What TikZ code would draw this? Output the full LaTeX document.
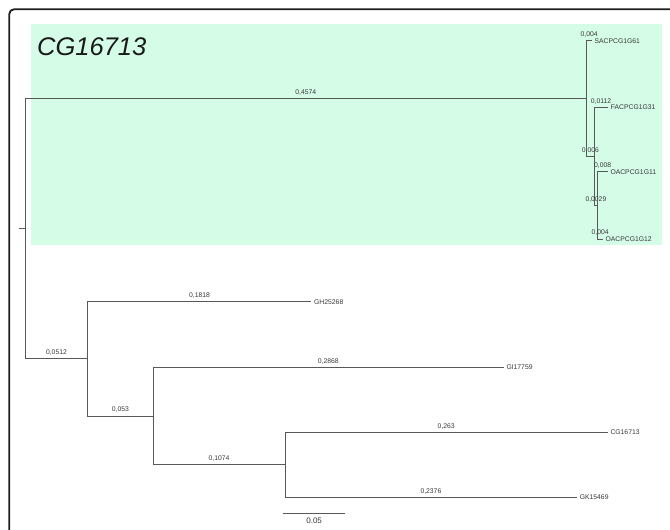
\documentclass[tikz,border=0pt]{standalone}
\usepackage{fontspec}
\setmainfont{Liberation Sans}
\definecolor{mint}{RGB}{213,252,231}
\definecolor{branchc}{RGB}{88,88,88}
\definecolor{txtc}{RGB}{55,55,55}
\definecolor{framec}{RGB}{30,30,30}
\begin{document}
\begin{tikzpicture}[x=1pt,y=-1pt,
  br/.style={draw=branchc,line width=0.9pt},
  bl/.style={font=\fontsize{6.8}{7}\selectfont, text=txtc, inner sep=1pt, above=1.8pt},
  leaf/.style={font=\fontsize{6.8}{7}\selectfont, text=txtc, inner sep=1pt, anchor=west, xshift=1.8pt}]
\useasboundingbox (0,0) rectangle (670,530);
\clip (0,0) rectangle (670,530);
% green highlight
\fill[mint] (30.7,24) rectangle (661.7,245);
% frame
\draw[framec, line width=1.8pt, rounded corners=5pt] (9.2,700) -- (9.2,9.2) -- (700,9.2);
% title
\node[anchor=base west, inner sep=0, font=\fontsize{25.5}{28}\selectfont\itshape, text=black!90] (title) at (37,55) {CG16713};
% tree coordinates
\coordinate (Rt) at (19,228.5);
\coordinate (R) at (25,228.5);
\coordinate (A) at (586.7,98.5);
\coordinate (SAC) at (591.6,40.7);
\coordinate (B) at (594.1,156.3);
\coordinate (FAC) at (607.9,107.3);
\coordinate (C) at (597.7,205.3);
\coordinate (O11) at (607.5,171.7);
\coordinate (O12) at (602.6,239);
\coordinate (D) at (87.9,358.7);
\coordinate (GH) at (311.2,301.7);
\coordinate (E) at (153,416);
\coordinate (GI) at (503.5,367.3);
\coordinate (F) at (285,464.8);
\coordinate (CG) at (607.5,432.3);
\coordinate (GK) at (576.8,497.3);
% branches
\draw[br] (Rt) -- (R);
\draw[br] (R) |- node[bl,pos=0.75] {0,4574} (A);
\draw[br] (R) |- node[bl,pos=0.75] {0,0512} (D);
\draw[br] (A) |- node[bl,pos=0.75] {0,004} (SAC);
\draw[br] (A) |- node[bl,pos=0.75] {0,006} (B);
\draw[br] (B) |- node[bl,pos=0.75] {0,0112} (FAC);
\draw[br] (B) |- node[bl,pos=0.75] {0,0029} (C);
\draw[br] (C) |- node[bl,pos=0.75] {0,008} (O11);
\draw[br] (C) |- node[bl,pos=0.75] {0,004} (O12);
\draw[br] (D) |- node[bl,pos=0.75] {0,1818} (GH);
\draw[br] (D) |- node[bl,pos=0.75] {0,053} (E);
\draw[br] (E) |- node[bl,pos=0.75] {0,2868} (GI);
\draw[br] (E) |- node[bl,pos=0.75] {0,1074} (F);
\draw[br] (F) |- node[bl,pos=0.75] {0,263} (CG);
\draw[br] (F) |- node[bl,pos=0.75] {0,2376} (GK);
% leaf labels
\node[leaf] (lSAC) at (SAC) {SACPCG1G61};
\node[leaf] (lFAC) at (FAC) {FACPCG1G31};
\node[leaf] (lO11) at (O11) {OACPCG1G11};
\node[leaf] (lO12) at (O12) {OACPCG1G12};
\node[leaf] (lGH) at (GH) {GH25268};
\node[leaf] (lGI) at (GI) {GI17759};
\node[leaf] (lCG) at (CG) {CG16713};
\node[leaf] (lGK) at (GK) {GK15469};
% scale bar
\coordinate (SB1) at (283.3,513);
\coordinate (SB2) at (345,513);
\draw[br] (SB1) -- node[below=3pt, inner sep=1pt, font=\fontsize{8}{9}\selectfont, text=txtc] (sbl) {0.05} (SB2);
\end{tikzpicture}
\end{document}
